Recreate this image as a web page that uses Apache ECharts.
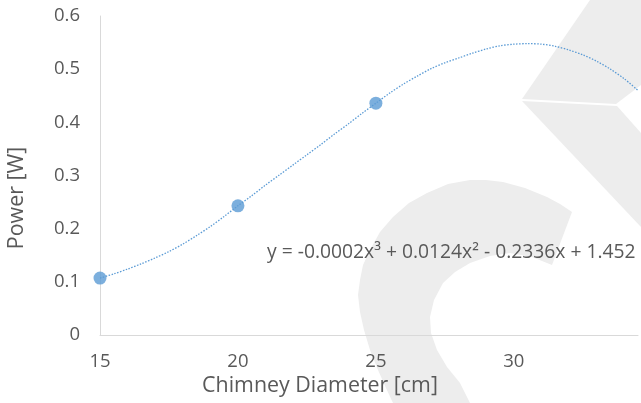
<!DOCTYPE html>
<html>
<head>
<meta charset="utf-8">
<script src="https://cdn.jsdelivr.net/npm/echarts@6/dist/echarts.min.js"></script>
<style>html,body{margin:0;padding:0;background:#fff;}#c{width:641px;height:403px;}</style>
</head>
<body>
<div id="c"></div>
<script>
// Measured points
const diameters = [15, 20, 25];
const powers = [0.107, 0.243, 0.436];
// Trendline
const trendX = [15, 15.5, 16, 16.5, 17, 17.5, 18, 18.5, 19, 19.5, 20, 20.5, 21, 21.5, 22, 22.5, 23, 23.5, 24, 24.5,
                25, 25.5, 26, 26.5, 27, 27.5, 28, 28.5, 29, 29.5, 30, 30.5, 31, 31.5, 32, 32.5, 33, 33.5, 34, 34.5];
const trendY = [0.107, 0.115, 0.124, 0.134, 0.145, 0.157, 0.171, 0.187, 0.204, 0.223, 0.243, 0.262, 0.282, 0.301, 0.320, 0.339, 0.358, 0.378, 0.397, 0.417,
                0.436, 0.455, 0.472, 0.487, 0.501, 0.512, 0.521, 0.530, 0.538, 0.544, 0.547, 0.548, 0.547, 0.543, 0.536, 0.527, 0.515, 0.500, 0.482, 0.460];
const xTicks = [15, 20, 25, 30];
const yTicks = [0, 0.1, 0.2, 0.3, 0.4, 0.5, 0.6];
const equation = 'y = -0.0002x\u00B3 + 0.0124x\u00B2 - 0.2336x + 1.452';
const xTitle = 'Chimney Diameter [cm]';
const yTitle = 'Power [W]';

const FONT = '"Open Sans", "Noto Sans", sans-serif';
const TXT = '#595959';
const WM = '#EDEDED';

const chart = echarts.init(document.getElementById('c'), null, {renderer: 'canvas'});
const cShape = [[572,212],[560,204],[547,197],[525,188],[503,182],[486,180],[470,180],[448,184],[427,193],[409,203],[393,217],[380,232],[370,250],[363,265],[360,280],[358,295],[360,312],[364,330],[370,350],[378,370],[386,388],[393,403],
  [470,403],[465,393],[460,383],[447,367],[437,350],[431,333],[430,317],[434,300],[443,283],[455,272],[470,263],[490,256],[510,253],[532,257],[552,265]];
const arm1 = [[590,0],[641,0],[641,85],[616,104],[522,99]];
const arm2 = [[522,101],[617,106],[641,133],[641,227]];

chart.setOption({
  animation: false,
  backgroundColor: '#fff',
  grid: {left: 100, right: 0, top: 16, bottom: 68, containLabel: false},
  xAxis: {
    type: 'value', min: xTicks[0], max: 34.5, interval: 5,
    axisLine: {show: true, lineStyle: {color: '#D9D9D9', width: 1}},
    axisTick: {show: false}, splitLine: {show: false},
    axisLabel: {color: TXT, fontFamily: FONT, fontSize: 18.5, margin: 17,
      formatter: v => xTicks.includes(v) ? String(v) : ''}
  },
  yAxis: {
    type: 'value', min: yTicks[0], max: yTicks[yTicks.length-1], interval: 0.1,
    axisLine: {show: true, lineStyle: {color: '#D9D9D9', width: 1}},
    axisTick: {show: false}, splitLine: {show: false},
    axisLabel: {color: TXT, fontFamily: FONT, fontSize: 18.5, margin: 20,
      formatter: v => String(Math.round(v*10)/10)}
  },
  graphic: [
    {type: 'polygon', z: -100, shape: {points: cShape}, style: {fill: WM}, silent: true},
    {type: 'polygon', z: -100, shape: {points: arm1}, style: {fill: WM}, silent: true},
    {type: 'polygon', z: -100, shape: {points: arm2}, style: {fill: WM}, silent: true},
    {type: 'text', z: 100, x: 267, y: 253, style: {text: equation, fill: TXT, font: '19.3px ' + FONT, verticalAlign: 'middle'}},
    {type: 'text', z: 100, x: 320, y: 386, style: {text: xTitle, fill: TXT, font: '21.4px ' + FONT, align: 'center', verticalAlign: 'middle'}},
    {type: 'text', z: 100, x: 17, y: 198, rotation: Math.PI/2, style: {text: yTitle, fill: TXT, font: '21.4px ' + FONT, align: 'center', verticalAlign: 'middle'}}
  ],
  series: [
    {type: 'line', data: trendX.map((x,i)=>[x, trendY[i]]), smooth: 0.3, showSymbol: false, symbol: 'none',
      lineStyle: {color: '#5B9BD5', width: 1.3, type: [1.5, 1.5]}, z: 2},
    {type: 'scatter', data: diameters.map((x,i)=>[x, powers[i]]), symbol: 'circle', symbolSize: 13,
      itemStyle: {color: '#5B9BD5'}, z: 3}
  ]
});
</script>
</body>
</html>
